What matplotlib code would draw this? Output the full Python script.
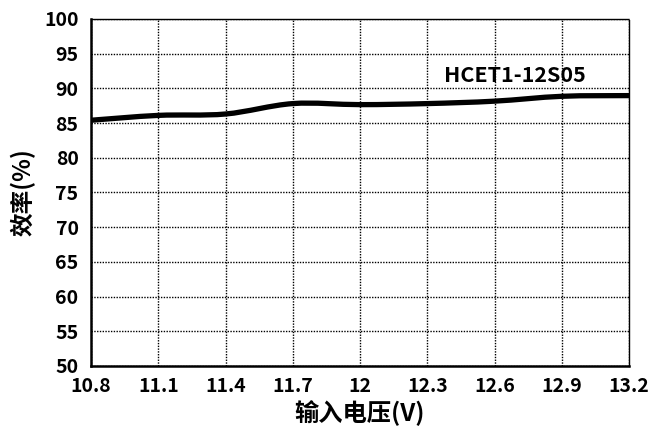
import matplotlib
matplotlib.use("Agg")
import matplotlib.pyplot as plt
from matplotlib.path import Path
from matplotlib.patches import PathPatch
import numpy as np

plt.rcParams['font.family'] = ['Noto Sans CJK SC', 'DejaVu Sans']

voltage = [10.8, 11.1, 11.4, 11.7, 12.0, 12.3, 12.6, 12.9, 13.2]
efficiency = [85.4, 86.1, 86.3, 87.8, 87.65, 87.8, 88.15, 88.85, 88.95]
x_ticks = [10.8, 11.1, 11.4, 11.7, 12.0, 12.3, 12.6, 12.9, 13.2]
x_tick_labels = ["10.8", "11.1", "11.4", "11.7", "12", "12.3", "12.6", "12.9", "13.2"]
y_ticks = [50, 55, 60, 65, 70, 75, 80, 85, 90, 95, 100]
series_name = "HCET1-12S05"
x_label = "输入电压(V)"
y_label = "效率(%)"

fig = plt.figure(figsize=(6.5, 4.3), dpi=100)
ax = fig.add_axes([0.14, 0.149, 0.8277, 0.807])
ax.set_xlim(10.8, 13.2)
ax.set_ylim(50, 100)

# smooth (Catmull-Rom -> Bezier) line through the data points
xs = np.array(voltage, dtype=float)
ys = np.array(efficiency, dtype=float)
verts = [(xs[0], ys[0])]
codes = [Path.MOVETO]
n = len(xs)
for i in range(n - 1):
    p0 = np.array([xs[max(i - 1, 0)], ys[max(i - 1, 0)]])
    p1 = np.array([xs[i], ys[i]])
    p2 = np.array([xs[i + 1], ys[i + 1]])
    p3 = np.array([xs[min(i + 2, n - 1)], ys[min(i + 2, n - 1)]])
    c1 = p1 + (p2 - p0) / 6.0
    c2 = p2 - (p3 - p1) / 6.0
    verts += [tuple(c1), tuple(c2), tuple(p2)]
    codes += [Path.CURVE4, Path.CURVE4, Path.CURVE4]
patch = PathPatch(Path(verts, codes), facecolor='none', edgecolor='black',
                  linewidth=3.8, capstyle='butt', zorder=3)
ax.add_patch(patch)

ax.set_xticks(x_ticks)
ax.set_xticklabels(x_tick_labels)
ax.set_yticks(y_ticks)
ax.tick_params(axis='both', length=0, labelsize=14)
ax.tick_params(axis='y', pad=9)
ax.tick_params(axis='x', pad=8)
for lbl in ax.get_xticklabels() + ax.get_yticklabels():
    lbl.set_fontweight('heavy')

ax.grid(True, color='black', linestyle=(0, (1, 1)), linewidth=1.0)
ax.set_axisbelow(True)

for side in ['left', 'bottom']:
    ax.spines[side].set_linewidth(1.8)
    ax.spines[side].set_color('black')
    ax.spines[side].set_zorder(4)
for side in ['top', 'right']:
    ax.spines[side].set_linestyle((0, (1, 1)))
    ax.spines[side].set_linewidth(1.0)
    ax.spines[side].set_color('black')

ax.set_xlabel(x_label, fontsize=17.5, fontweight='bold', labelpad=3)
ax.set_ylabel(y_label, fontsize=17, fontweight='bold', labelpad=6)

ax.text(12.69, 91.9, series_name, fontsize=15.5, fontweight='heavy',
        ha='center', va='center', zorder=5)

fig.savefig("out.png", dpi=100)
